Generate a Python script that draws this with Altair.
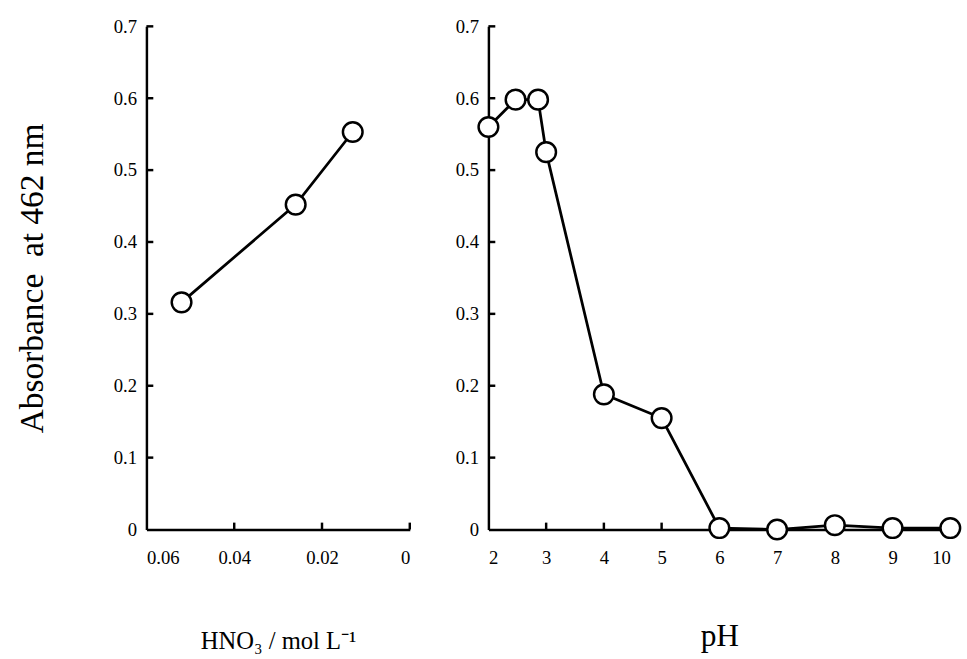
import altair as alt
import pandas as pd

# Left panel: HNO3 concentration
hno3_conc = [0.052, 0.026, 0.013]
hno3_abs = [0.316, 0.452, 0.553]

# Right panel: pH
ph_vals = [2, 2.47, 2.86, 3, 4, 5, 6, 7, 8, 9, 10]
ph_abs = [0.560, 0.598, 0.598, 0.525, 0.188, 0.155, 0.002, 0.000, 0.006, 0.002, 0.002]

y_ticks = [0, 0.1, 0.2, 0.3, 0.4, 0.5, 0.6, 0.7]
hno3_ticks = [0.06, 0.04, 0.02, 0]
ph_ticks = [2, 3, 4, 5, 6, 7, 8, 9, 10]

FONT = "Liberation Serif"
W_LEFT, W_RIGHT, H = 268, 470, 512

df_left = pd.DataFrame({"c": hno3_conc, "a": hno3_abs})
df_right = pd.DataFrame({"ph": ph_vals, "a": ph_abs})

y_scale = alt.Scale(domain=[0, 0.7], nice=False, zero=False)
y_label = "datum.value == 0 ? '0' : format(datum.value, '.1f')"

# inward tick marks (drawn through the scales)
ytick_len_left = 0.06 * 7 / W_LEFT
ytick_len_right = 8 * 7 / W_RIGHT
xtick_len = 0.7 * 7 / H

left_ytick_df = pd.DataFrame({"y": y_ticks[1:], "x": [0.06] * 7, "x2": [0.06 - ytick_len_left] * 7})
left_xtick_df = pd.DataFrame({"x": hno3_ticks[1:], "y": [0] * 3, "y2": [xtick_len] * 3})
right_ytick_df = pd.DataFrame({"y": y_ticks[1:], "x": [2] * 7, "x2": [2 + ytick_len_right] * 7})
right_xtick_df = pd.DataFrame({"x": ph_ticks[1:], "y": [0] * 8, "y2": [xtick_len] * 8})

x_left_scale = alt.Scale(domain=[0, 0.06], reverse=True, nice=False, zero=False)
x_right_scale = alt.Scale(domain=[2, 10], nice=False, zero=False)

rule_style = dict(color="black", strokeWidth=2.5)

left_yt = alt.Chart(left_ytick_df).mark_rule(**rule_style).encode(
    x=alt.X("x:Q", scale=x_left_scale), x2="x2", y=alt.Y("y:Q", scale=y_scale))
left_xt = alt.Chart(left_xtick_df).mark_rule(**rule_style).encode(
    x=alt.X("x:Q", scale=x_left_scale), y=alt.Y("y:Q", scale=y_scale), y2="y2")

left_line = alt.Chart(df_left).mark_line(color="black", strokeWidth=2.8).encode(
    x=alt.X("c:Q", scale=x_left_scale,
            axis=alt.Axis(values=hno3_ticks, title="HNO₃ / mol L⁻¹", labelExpr="format(datum.value, '~g')",
                          titlePadding=62, titleFontSize=25)),
    y=alt.Y("a:Q", scale=y_scale,
            axis=alt.Axis(values=y_ticks, title="Absorbance\u00a0\u00a0at 462 nm", labelExpr=y_label,
                          titlePadding=65, titleFontSize=34)),
    order="c:Q",
)
left_pts = alt.Chart(df_left).mark_point(filled=True, fill="white", stroke="black", strokeWidth=2.5,
                                         size=400, opacity=1, shape="circle").encode(
    x=alt.X("c:Q", scale=x_left_scale), y=alt.Y("a:Q", scale=y_scale))

left = alt.layer(left_yt, left_xt, left_line, left_pts).properties(width=W_LEFT, height=H)

right_yt = alt.Chart(right_ytick_df).mark_rule(**rule_style).encode(
    x=alt.X("x:Q", scale=x_right_scale), x2="x2", y=alt.Y("y:Q", scale=y_scale))
right_xt = alt.Chart(right_xtick_df).mark_rule(**rule_style).encode(
    x=alt.X("x:Q", scale=x_right_scale), y=alt.Y("y:Q", scale=y_scale), y2="y2")

right_line = alt.Chart(df_right).mark_line(color="black", strokeWidth=2.8).encode(
    x=alt.X("ph:Q", scale=x_right_scale,
            axis=alt.Axis(values=ph_ticks, title="pH", labelExpr="format(datum.value, 'd')",
                          titlePadding=54, titleFontSize=32)),
    y=alt.Y("a:Q", scale=y_scale, axis=alt.Axis(values=y_ticks, title=None, labelExpr=y_label)),
    order="ph:Q",
)
right_pts = alt.Chart(df_right).mark_point(filled=True, fill="white", stroke="black", strokeWidth=2.5,
                                           size=400, opacity=1, shape="circle").encode(
    x=alt.X("ph:Q", scale=x_right_scale), y=alt.Y("a:Q", scale=y_scale))

right = alt.layer(right_yt, right_xt, right_line, right_pts).properties(width=W_RIGHT, height=H)

chart = alt.hconcat(left, right, spacing=44).resolve_scale(x="independent").properties(
    padding={"left": 16, "top": 12, "right": 2, "bottom": 2},
    background="white",
).configure_view(stroke=None).configure_axis(
    domainColor="black", domainWidth=2.5, ticks=False, grid=False,
    labelFont=FONT, labelFontSize=19, labelColor="black", labelPadding=10,
    titleFont=FONT, titleFontWeight="normal", titleColor="black",
).configure_axisX(labelPadding=20)

chart.save("out.html", embed_options={"renderer": "svg", "actions": False})
